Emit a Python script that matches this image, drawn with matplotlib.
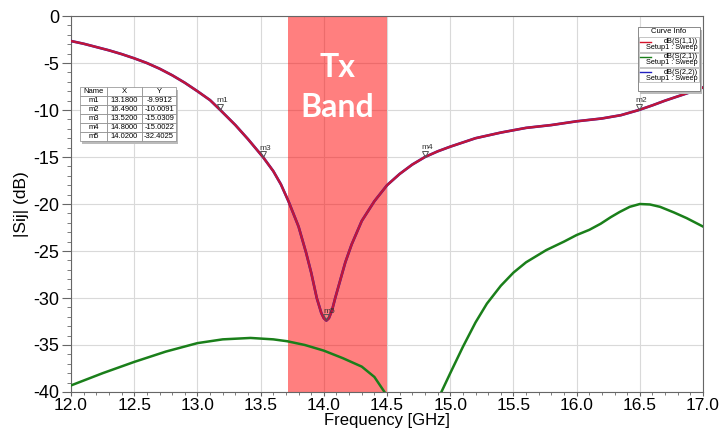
import matplotlib.pyplot as plt
import numpy as np
from matplotlib.patches import Rectangle
from matplotlib.lines import Line2D

plt.rcParams['font.family'] = ['Liberation Sans', 'DejaVu Sans']
plt.rcParams['axes.unicode_minus'] = False

# S11 / S22
f_s11 = [12.0, 12.1, 12.2, 12.3, 12.4, 12.5, 12.6, 12.7, 12.8, 12.9, 13.0, 13.1, 13.18, 13.3, 13.4,
         13.52, 13.6, 13.66, 13.72, 13.8, 13.86, 13.9, 13.944, 13.98, 14.0, 14.02, 14.04, 14.065,
         14.09, 14.13, 14.17, 14.22, 14.3, 14.4, 14.5, 14.6, 14.7, 14.8, 14.9, 15.0, 15.2, 15.4,
         15.6, 15.8, 16.0, 16.2, 16.35, 16.49, 16.6, 16.7, 16.8, 16.9, 17.0]
s11 = [-2.66, -2.95, -3.3, -3.65, -4.05, -4.5, -5.0, -5.6, -6.3, -7.1, -8.0, -8.95, -9.99, -11.6, -13.1,
       -15.03, -16.5, -17.9, -19.7, -22.4, -25.2, -27.3, -30.0, -31.6, -32.15, -32.40, -32.15, -31.3,
       -30.0, -28.1, -26.2, -24.3, -21.8, -19.7, -18.0, -16.8, -15.8, -15.0, -14.4, -13.9, -13.0, -12.4,
       -11.9, -11.6, -11.2, -10.9, -10.55, -10.01, -9.5, -9.0, -8.55, -8.1, -7.6]
s22 = list(s11)

# S21
f_s21 = [12.0, 12.25, 12.5, 12.75, 13.0, 13.2, 13.42, 13.6, 13.71, 13.85, 14.0, 14.15, 14.3, 14.4,
         14.48, 14.55, 14.7, 14.85, 14.93, 15.0, 15.05, 15.1, 15.2, 15.29, 15.4, 15.5, 15.6, 15.76,
         15.9, 16.0, 16.1, 16.19, 16.27, 16.34, 16.42, 16.5, 16.58, 16.66, 16.77, 16.87, 17.0]
s21 = [-39.3, -38.0, -36.8, -35.7, -34.8, -34.4, -34.25, -34.4, -34.6, -35.0, -35.6, -36.4, -37.3, -38.4,
       -40.0, -41.5, -47.0, -42.5, -40.0, -38.0, -36.6, -35.2, -32.6, -30.6, -28.7, -27.3, -26.2, -24.9,
       -24.0, -23.3, -22.75, -22.1, -21.4, -20.85, -20.3, -20.0, -20.05, -20.3, -20.9, -21.5, -22.4]

# markers
m_names = ['m1', 'm2', 'm3', 'm4', 'm5']
m_x = [13.18, 16.49, 13.52, 14.80, 14.02]
m_y = [-9.9912, -10.0091, -15.0309, -15.0022, -32.4025]

band = (13.72, 14.5)

fig = plt.figure(figsize=(7.19, 4.33), dpi=100)
ax = fig.add_axes([0.0988, 0.0947, 0.879, 0.8683])

ax.axvspan(band[0], band[1], color='#ff0000', alpha=0.5, lw=0, zorder=2)
ax.text(sum(band) / 2, -7.6, 'Tx\nBand', color='white', fontsize=23, fontweight='bold',
        ha='center', va='center', family=['Lato', 'DejaVu Sans'], linespacing=1.45, zorder=3)

ax.plot(f_s21, s21, color='#1a7f1a', lw=1.8, zorder=4)
ax.plot(f_s11, s22, color='#2020c0', lw=1.9, zorder=4)
ax.plot(f_s11, s11, color='#d4142a', lw=1.7, alpha=0.9, zorder=5)

for n, x, y in zip(m_names, m_x, m_y):
    ax.plot(x, y + 0.35, marker='v', ms=4, mfc='none', mec='#555555', mew=0.7, zorder=6)
    ax.text(x + 0.02, y + 0.6, n, fontsize=6, color='#333333', ha='center', va='bottom', zorder=6)

ax.set_xlim(12, 17)
ax.set_ylim(-40, 0)
ax.set_xticks(np.arange(12, 17.01, 0.5))
ax.set_xticks(np.arange(12, 17.01, 0.1), minor=True)
ax.set_yticks(np.arange(-40, 0.1, 5))
ax.set_yticks(np.arange(-40, 0.1, 1), minor=True)
ax.set_xticklabels(['%.1f' % v for v in np.arange(12, 17.01, 0.5)])
ax.tick_params(axis='y', which='major', length=6.5, width=0.8, color='#666666', labelsize=13, pad=2)
ax.tick_params(axis='y', which='minor', length=3, width=0.6, color='#666666')
ax.tick_params(axis='x', which='major', length=3, width=0.8, color='#666666', labelsize=12.5, pad=1)
ax.tick_params(axis='x', which='minor', length=2, width=0.6, color='#666666')
ax.grid(True, which='major', color='#d9d9d9', lw=0.8, zorder=0)
ax.set_axisbelow(True)
for s in ax.spines.values():
    s.set_color('#666666')
ax.set_xlabel('Frequency [GHz]', fontsize=12, labelpad=0.5)
ax.set_ylabel('|Sij| (dB)', fontsize=12.5, labelpad=3)

# marker table
cells = [[n, '%.4f' % x, '%.4f' % y] for n, x, y in zip(m_names, m_x, m_y)]
tb_box = [0.014, 0.668, 0.152, 0.142]
ax.add_patch(Rectangle((tb_box[0] + 0.004, tb_box[1] - 0.008), tb_box[2], tb_box[3],
                       transform=ax.transAxes, color='#bbbbbb', lw=0, zorder=7))
tbl = ax.table(cellText=cells, colLabels=['Name', 'X', 'Y'], bbox=tb_box,
               colWidths=[0.28, 0.37, 0.35], cellLoc='center')
tbl.auto_set_font_size(False)
tbl.set_fontsize(5.5)
tbl.set_zorder(8)
for c in tbl.get_celld().values():
    c.set_edgecolor('#888888')
    c.set_linewidth(0.5)
    c.set_facecolor('white')

# curve info box
tr = ax.transAxes
lx0, lx1 = 0.897, 0.995
ax.add_patch(Rectangle((lx0 + 0.004, 0.8 - 0.008), lx1 - lx0, 0.172, transform=tr,
                       color='#bbbbbb', lw=0, zorder=7, clip_on=False))
ax.add_patch(Rectangle((lx0, 0.8), lx1 - lx0, 0.172, transform=tr, fc='white',
                       ec='#777777', lw=0.6, zorder=8, clip_on=False))
ax.text((lx0 + lx1) / 2, 0.958, 'Curve Info', transform=tr, fontsize=5.5, ha='center',
        va='center', zorder=9)
entries = [('dB(S(1,1))', '#d4142a'), ('dB(S(2,1))', '#1a7f1a'), ('dB(S(2,2))', '#2020c0')]
for i, (lab, col) in enumerate(entries):
    top = 0.943 - i * 0.0405
    ax.add_patch(Rectangle((lx0 + 0.002, top - 0.038), lx1 - lx0 - 0.004, 0.038, transform=tr,
                           fc='white', ec='#999999', lw=0.4, zorder=8, clip_on=False))
    ax.add_line(Line2D([lx0 + 0.004, lx0 + 0.02], [top - 0.011] * 2, transform=tr, color=col,
                       lw=1, zorder=9))
    ax.text(lx1 - 0.003, top - 0.011, lab, transform=tr, fontsize=5.3, ha='right', va='center',
            zorder=9)
    ax.text(lx1 - 0.003, top - 0.027, 'Setup1 : Sweep', transform=tr, fontsize=5.3, ha='right',
            va='center', zorder=9)

fig.savefig('out.png', dpi=100)
